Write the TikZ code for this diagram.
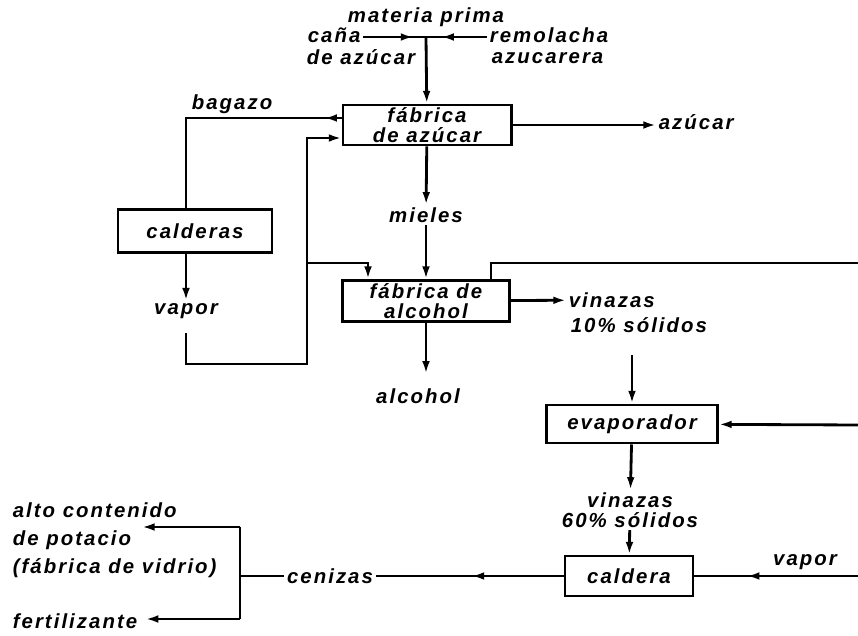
\documentclass[tikz,border=0pt]{standalone}
\usepackage{fontspec}
\newfontfamily\lbl[LetterSpace=10]{Liberation Sans Bold Italic}
\usetikzlibrary{arrows.meta, positioning, decorations.markings}

\begin{document}
\begin{tikzpicture}[
    x=0.025cm, y=-0.025cm,
    line width=2pt,
    unit/.style={draw, line width=2.1pt, align=center, inner sep=0pt,
                 font=\lbl\fontsize{14.5}{14}\selectfont},
    lab/.style={align=left, inner sep=1pt,
                font=\lbl\fontsize{14.5}{14}\selectfont},
    arr/.style={-{Latex[length=9pt,width=5.5pt]}},
    midarr/.style={postaction={decorate}, decoration={markings,
                   mark=at position #1 with {\arrow{Latex[length=9pt,width=5.5pt]}}}}
]
\useasboundingbox (0,0) rectangle (858,636);

% unidades
\node[unit, minimum width=4.2cm, minimum height=1cm]     (azf)  at (427,125) {fábrica\\de azúcar};
\node[unit, minimum width=3.85cm, minimum height=1.075cm] (cald) at (195,231) {calderas};
\node[unit, minimum width=4.175cm, minimum height=1.025cm] (alf) at (426,301) {fábrica de\\alcohol};
\node[unit, minimum width=4.275cm, minimum height=0.95cm] (evap) at (632,424) {evaporador};
\node[unit, minimum width=3.2cm, minimum height=1cm]     (cal)  at (629,576) {caldera};

% materia prima
\node[lab] (mat) at (426,17) {materia prima};
\node[lab, anchor=west] (cana)  at (305,35) {caña};
\node[lab, anchor=west] (cana2) at (304,57) {de azúcar};
\node[lab, anchor=west] (rem)   at (487,35) {remolacha};
\node[lab, anchor=west] (rem2)  at (489,58) {azucarera};
\coordinate (mp) at (426,37);

\draw[midarr=0.8] (cana.east |- mp) -- (mp);
\draw[midarr=0.75] (rem.west |- mp) -- (mp);
\draw[arr] (mp) -- (azf);

% productos y corrientes
\node[lab] (bag) at (232,104) {bagazo};
\node[lab, anchor=west] (azu) at (656,122) {azúcar};
\node[lab] (mie)  at (426,215) {mieles};
\node[lab] (vapL) at (186,311) {vapor};
\node[lab] (alc)  at (418,396) {alcohol};
\node[lab, anchor=west] (vin1) at (566,300) {vinazas};
\node[lab, anchor=west] (sol1) at (568,325) {10\% sólidos};
\node[lab, align=center] (vin2) at (630,510) {vinazas\\60\% sólidos};
\node[lab] (cen)  at (330,576) {cenizas};
\node[lab] (vapR) at (805,562) {vapor};
\node[lab, anchor=west, font=\lbl\fontsize{14.5}{20}\selectfont]
      (vid) at (10,540) {alto contenido\\de potacio\\(fábrica de vidrio)};
\node[lab, anchor=west] (fert) at (10,621) {fertilizante};

\draw[arr] (azf) -- (azf.east -| azu.west);
\draw[midarr=0.07] ([yshift=0.175cm]azf.west) -| (cald.north -| vapL);
\draw[arr] (cald.south -| vapL) -- (vapL);

\coordinate (ret) at (307,364);
\coordinate (br)  at (307,263);
\draw[arr] ([yshift=-0.3cm]vapL.south) |- (ret) |- ([yshift=-0.325cm]azf.west);
\draw[arr] (br) -| ([xshift=0.675cm]alf.north west);

\draw[arr] (azf) -- (mie);
\draw[arr] (mie) -- (alf);
\draw[arr] (alf.south) -- ([yshift=0.3cm]alf.south |- alc.north);
\draw[arr] (alf) -- (vin1);

% hacia la derecha (fuera del dibujo)
\coordinate (eR1) at (858,263);
\coordinate (eR2) at (858,425);
\coordinate (eR3) at (858,576);
\draw ([xshift=-0.5cm]alf.north east) |- (eR1);
\draw[arr] (eR2) -- (evap);

\draw[arr] ([yshift=-0.5cm]evap.north |- sol1.south) -- (evap);
\draw[arr] (evap) -- (vin2);
\draw[arr] (vin2) -- (cal);
\draw[midarr=0.68] (eR3) -- (cal);

% cenizas
\coordinate (ctop) at (240,527);
\coordinate (cbot) at (240,619);
\coordinate (pot)  at (142,527);
\draw[midarr=0.49] (cal) -- (cen);
\draw (cen) -- (cen -| ctop);
\draw (ctop) -- (cbot);
\draw[arr] (ctop) -- (pot);
\draw[arr, shorten >=4pt] (cbot) -- (cbot -| fert.east);
\end{tikzpicture}
\end{document}
